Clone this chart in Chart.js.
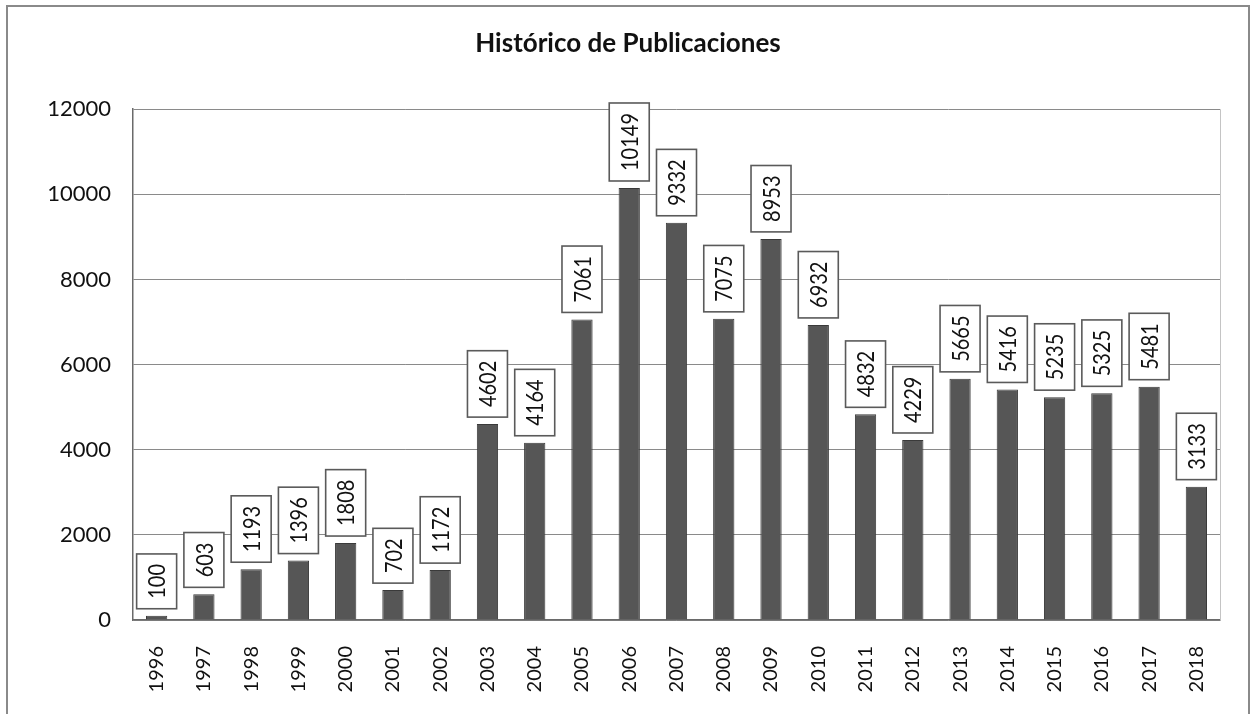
<!DOCTYPE html>
<html>
<head>
<meta charset="utf-8">
<script src="https://cdn.jsdelivr.net/npm/chart.js@4/dist/chart.umd.min.js"></script>
<style>
  html, body { margin: 0; padding: 0; background: #fff; overflow: hidden; }
  #wrap { width: 1252px; height: 714px; position: relative; }
</style>
</head>
<body>
<div id="wrap"><canvas id="chart" width="1252" height="714"></canvas></div>
<script>
// data
const years = ["1996","1997","1998","1999","2000","2001","2002","2003","2004","2005","2006","2007",
               "2008","2009","2010","2011","2012","2013","2014","2015","2016","2017","2018"];
const publicaciones = [100, 603, 1193, 1396, 1808, 702, 1172, 4602, 4164, 7061, 10149, 9332,
                       7075, 8953, 6932, 4832, 4229, 5665, 5416, 5235, 5325, 5481, 3133];
const yTicks = [0, 2000, 4000, 6000, 8000, 10000, 12000];

const FONT = "Lato, 'Open Sans', sans-serif";

// boxed, rotated value labels above each bar + outer frame
const boxLabels = {
  id: 'boxLabels',
  beforeDraw(chart) {
    const ctx = chart.ctx;
    ctx.save();
    ctx.strokeStyle = '#8a8a8a';
    ctx.lineWidth = 2;
    ctx.strokeRect(7, 6, 1242, 740);
    ctx.restore();
  },
  beforeDatasetsDraw(chart) {
    const ctx = chart.ctx, a = chart.chartArea;
    ctx.save();
    ctx.strokeStyle = '#c4c4c4';
    ctx.lineWidth = 1;
    ctx.beginPath();
    ctx.moveTo(a.right + 0.5, a.top);
    ctx.lineTo(a.right + 0.5, a.bottom);
    ctx.stroke();
    ctx.restore();
  },
  afterDatasetsDraw(chart) {
    const ctx = chart.ctx;
    const meta = chart.getDatasetMeta(0);
    ctx.save();
    ctx.font = '20px ' + FONT;
    meta.data.forEach((bar, i) => {
      const txt = String(chart.data.datasets[0].data[i]);
      const tw = ctx.measureText(txt).width;
      const h = tw + 20, w = 40;
      const bottom = bar.y - 7;
      const x0 = bar.x - w / 2, y0 = bottom - h;
      ctx.fillStyle = '#fff';
      ctx.fillRect(x0, y0, w, h);
      ctx.strokeStyle = '#5a5a5a';
      ctx.lineWidth = 1.6;
      ctx.strokeRect(x0, y0, w, h);
      ctx.save();
      ctx.translate(bar.x + 1, bottom - h / 2);
      ctx.scale(1.18, 1);
      ctx.rotate(-Math.PI / 2);
      ctx.fillStyle = '#111';
      ctx.textAlign = 'center';
      ctx.textBaseline = 'middle';
      ctx.fillText(txt, 0, 0);
      ctx.restore();
    });
    ctx.restore();
  }
};

new Chart(document.getElementById('chart'), {
  type: 'bar',
  data: {
    labels: years,
    datasets: [{
      data: publicaciones,
      backgroundColor: '#565656',
      borderColor: '#3a3a3a',
      borderWidth: 1,
      categoryPercentage: 1,
      barPercentage: 0.45
    }]
  },
  options: {
    responsive: false,
    animation: false,
    layout: { padding: { left: 36, right: 32, top: 0, bottom: 0 } },
    plugins: {
      legend: { display: false },
      tooltip: { enabled: false },
      title: {
        display: true,
        text: 'Histórico de Publicaciones',
        color: '#111',
        font: { family: FONT, size: 26, weight: 'bold' },
        padding: { top: 28, bottom: 50 }
      }
    },
    scales: {
      x: {
        grid: { display: false },
        border: { color: '#6a6a6a', width: 1.5 },
        ticks: {
          color: '#111',
          font: { family: FONT, size: 20 },
          minRotation: 90,
          maxRotation: 90,
          padding: 18
        },
        afterFit(scale) { scale.height = 94; }
      },
      y: {
        min: 0,
        max: 12000,
        afterBuildTicks(scale) { scale.ticks = yTicks.map(v => ({ value: v })); },
        grid: { color: '#8a8a8a', lineWidth: 1, drawTicks: false },
        border: { color: '#6a6a6a', width: 1.5 },
        ticks: {
          color: '#111',
          font: { family: FONT, size: 22 },
          padding: 22,
          callback: v => String(v)
        },
        afterFit(scale) { scale.width = 97; }
      }
    }
  },
  plugins: [boxLabels]
});
</script>
</body>
</html>
